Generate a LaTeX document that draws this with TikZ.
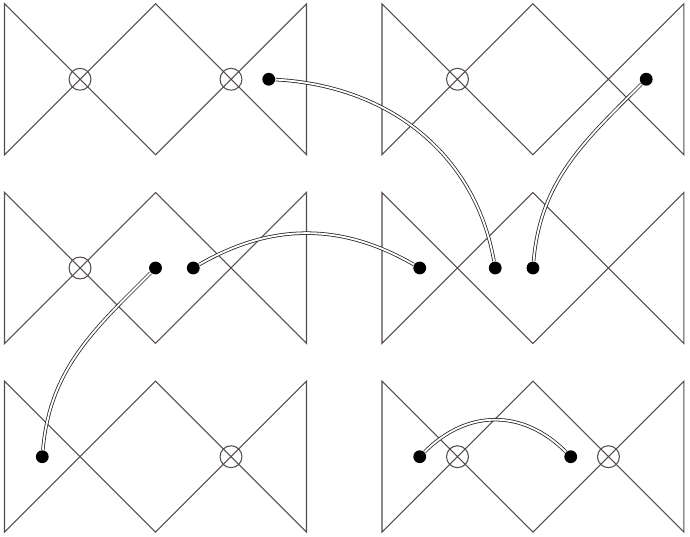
\documentclass[tikz,border=0pt]{standalone}
\usepackage{tikz}
\usetikzlibrary{positioning,calc}
\definecolor{wire}{RGB}{85,76,76}

\begin{document}
\begin{tikzpicture}[x=1cm,y=1cm,
  panel/.style={draw=wire,line width=0.4pt},
  dot/.style={circle,fill=black,inner sep=0pt,minimum size=0.17cm},
  cross/.style={circle,draw=wire,line width=0.4pt,inner sep=0pt,minimum size=0.29cm},
  link/.style={draw=black!85,double=white,double distance=0.7pt,line width=0.3pt}]
\useasboundingbox (-0.06,-0.06) rectangle (9.08,7.05);
% six bow-tie panels
\foreach \px/\py in {0/5,5/5,0/2.5,5/2.5,0/0,5/0}
  \path[panel] (\px,\py) -- ++(0,2) -- ++(2,-2) -- ++(2,2) -- ++(0,-2) -- ++(-2,2) -- cycle;
% crossing markers
\node[cross] (c1) at (1,6) {};
\node[cross] (c2) at (3,6) {};
\node[cross] (c3) at (6,6) {};
\node[cross] (c4) at (1,3.5) {};
\node[cross] (c5) at (3,1) {};
\node[cross] (c6) at (6,1) {};
\node[cross] (c7) at (8,1) {};
% end points
\node[dot] (d1) at (3.5,6) {};
\node[dot] (d2) at (8.5,6) {};
\node[dot] (d3) at (2,3.5) {};
\node[dot] (d4) at (2.5,3.5) {};
\node[dot] (d5) at (5.5,3.5) {};
\node[dot] (d6) at (6.5,3.5) {};
\node[dot] (d7) at (7,3.5) {};
\node[dot] (d8) at (0.5,1) {};
\node[dot] (d9) at (5.5,1) {};
\node[dot] (d10) at (7.5,1) {};
\path[every edge/.style={link}]
(d1) edge[out=-3,in=100] (d6)
(d2) edge[out=-135,in=85] (d7)
(d4) edge[out=30,in=150] (d5)
(d3) edge[out=-135,in=85] (d8)
(d9) edge[out=45,in=135,looseness=1.1] (d10)
;
\end{tikzpicture}
\end{document}
